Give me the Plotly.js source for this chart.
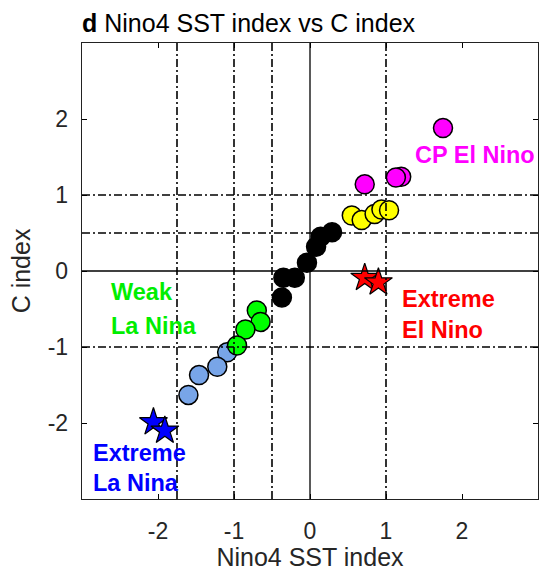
<!DOCTYPE html>
<html>
<head>
<meta charset="utf-8">
<script src="https://cdn.plot.ly/plotly-3.0.1.min.js"></script>
<style>html,body{margin:0;padding:0;background:#fff;}#chart{width:548px;height:571px;}</style>
</head>
<body>
<div id="chart"></div>
<script>
// ---- data ----
const cpElNinoX = [1.75, 1.20, 1.13, 0.72];
const cpElNinoY = [1.88, 1.24, 1.23, 1.14];
const moderateElNinoX = [0.55, 0.68, 0.85, 0.94, 1.04];
const moderateElNinoY = [0.73, 0.67, 0.75, 0.81, 0.80];
const neutralX = [0.29, 0.14, 0.08, -0.04, -0.20, -0.35, -0.37];
const neutralY = [0.51, 0.45, 0.32, 0.11, -0.09, -0.09, -0.35];
const strongLaNinaX = [-1.09, -1.22, -1.46, -1.60];
const strongLaNinaY = [-1.07, -1.26, -1.37, -1.63];
const weakLaNinaX = [-0.70, -0.65, -0.85, -0.96];
const weakLaNinaY = [-0.52, -0.67, -0.77, -0.98];
const extremeElNinoX = [0.72, 0.90];
const extremeElNinoY = [-0.09, -0.15];
const extremeLaNinaX = [-2.06, -1.91];
const extremeLaNinaY = [-1.99, -2.10];

const tickVals = [-2, -1, 0, 1, 2];
const tickText = ['-2', '-1', '0', '1', '2'];
const vThresholds = [-1.75, -1, -0.5, 1];   // dash-dot verticals
const hThresholds = [1, 0.5, -1];           // dash-dot horizontals

const labelCP = ['CP El Nino'];
const labelExtremeElNino = ['Extreme', 'El Nino'];
const labelWeakLaNina = ['Weak', 'La Nina'];
const labelExtremeLaNina = ['Extreme', 'La Nina'];

const FONT = 'Liberation Sans, Arial, Helvetica, sans-serif';

function circles(x, y, color) {
  return {x: x, y: y, type: 'scatter', mode: 'markers', hoverinfo: 'skip',
    marker: {symbol: 'circle', size: 19, color: color, line: {color: '#000', width: 1.5}}};
}
function stars(x, y, color) {
  return {x: x, y: y, type: 'scatter', mode: 'markers', hoverinfo: 'skip',
    marker: {symbol: 'star', size: 21, color: color, line: {color: '#000', width: 1.2}}};
}

const traces = [
  circles(strongLaNinaX, strongLaNinaY, '#78A5E8'),
  circles(weakLaNinaX, weakLaNinaY, '#00FF00'),
  circles(neutralX, neutralY, '#000000'),
  circles(moderateElNinoX, moderateElNinoY, '#FFFF00'),
  circles(cpElNinoX, cpElNinoY, '#FF00FF'),
  stars(extremeElNinoX, extremeElNinoY, '#FF0000'),
  stars(extremeLaNinaX, extremeLaNinaY, '#0000FF')
];

const dashDot = '8px,3px,2px,3px';
const shapes = [];
vThresholds.forEach(v => shapes.push({type: 'line', xref: 'x', yref: 'paper', x0: v, x1: v, y0: 0, y1: 1,
  layer: 'above', line: {color: '#000', width: 1.6, dash: dashDot}}));
hThresholds.forEach(v => shapes.push({type: 'line', xref: 'paper', yref: 'y', x0: 0, x1: 1, y0: v, y1: v,
  layer: 'above', line: {color: '#000', width: 1.6, dash: dashDot}}));
shapes.push({type: 'line', xref: 'x', yref: 'paper', x0: 0, x1: 0, y0: 0, y1: 1, layer: 'above', line: {color: '#000', width: 1.3}});
shapes.push({type: 'line', xref: 'paper', yref: 'y', x0: 0, x1: 1, y0: 0, y1: 0, layer: 'above', line: {color: '#000', width: 1.3}});

function label(lines, x, y0, dy, color) {
  return lines.map((t, i) => ({text: '<b>' + t + '</b>', x: x, y: y0 - i * dy, xref: 'x', yref: 'y',
    xanchor: 'left', yanchor: 'middle', showarrow: false,
    font: {family: FONT, size: 23.5, color: color}}));
}
const annotations = [].concat(
  label(labelCP, 1.36, 1.52, 0, '#FF00FF'),
  label(labelExtremeElNino, 1.19, -0.37, 0.40, '#FF0000'),
  label(labelWeakLaNina, -2.65, -0.27, 0.45, '#00EE00'),
  label(labelExtremeLaNina, -2.88, -2.39, 0.40, '#0000FF')
);

const axisCommon = {
  range: [-3, 3], tickvals: tickVals, ticktext: tickText,
  ticks: 'inside', ticklen: 5, tickwidth: 1, tickcolor: '#000',
  showline: true, linecolor: '#222', linewidth: 1.3, mirror: 'ticks',
  showgrid: false, zeroline: false, fixedrange: true,
  tickfont: {family: FONT, size: 23, color: '#262626'}
};

const layout = {
  width: 548, height: 571,
  margin: {l: 82, r: 10, t: 43, b: 72},
  paper_bgcolor: '#fff', plot_bgcolor: '#fff',
  showlegend: false,
  title: {text: '<b>d</b> Nino4 SST index vs C index', x: 0, xanchor: 'left', xref: 'paper',
    y: 1 - 23 / 571, yref: 'container', yanchor: 'middle', font: {family: FONT, size: 25, color: '#000'}},
  xaxis: Object.assign({}, axisCommon, {
    title: {text: 'Nino4 SST index', font: {family: FONT, size: 25, color: '#262626'}, standoff: 2},
    ticklabelstandoff: 11}),
  yaxis: Object.assign({}, axisCommon, {
    title: {text: 'C index', font: {family: FONT, size: 25, color: '#262626'}, standoff: 10},
    ticklabelstandoff: 8}),
  shapes: shapes,
  annotations: annotations
};

Plotly.newPlot('chart', traces, layout, {staticPlot: true, displayModeBar: false});
</script>
</body>
</html>
